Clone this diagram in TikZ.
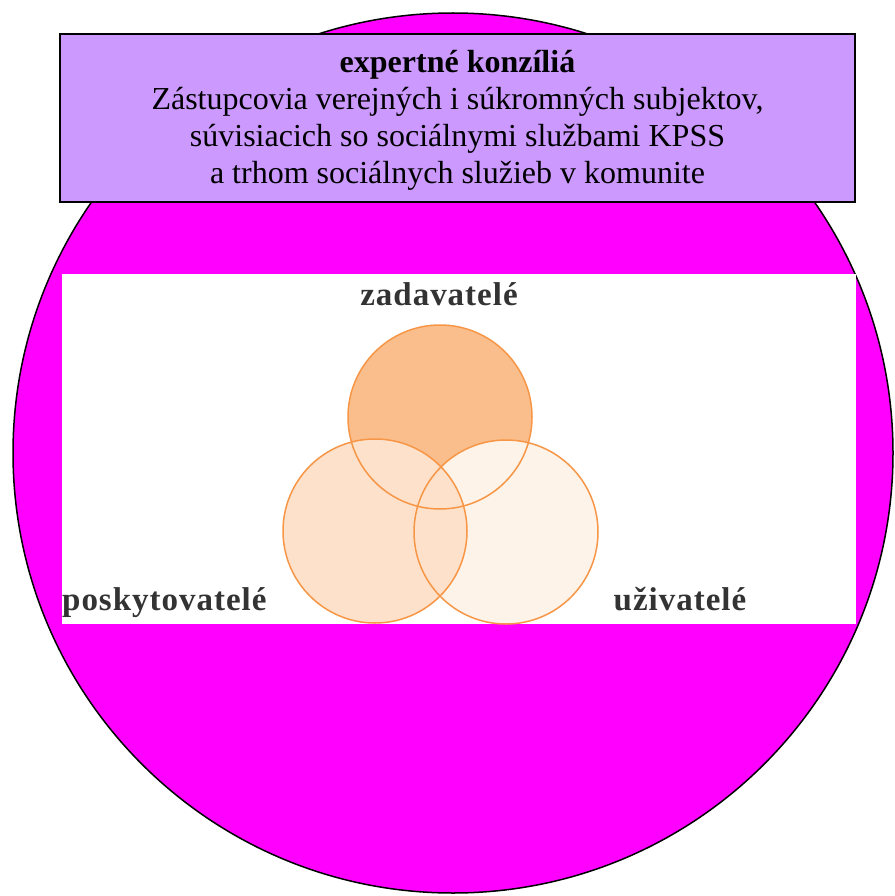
\documentclass[tikz,border=0pt]{standalone}
\usepackage{fontspec}
\setmainfont{Liberation Serif}
\usepackage{tikz}

\definecolor{kruh}{HTML}{FF00FF}
\definecolor{fialova}{HTML}{CC99FF}
\definecolor{oranz}{HTML}{F79646}
\definecolor{zad}{HTML}{FABE8C}
\definecolor{posk}{HTML}{FDE1CB}
\definecolor{uziv}{HTML}{FEF3E8}
\definecolor{sedy}{HTML}{333333}

\tikzset{
  riadok/.style={anchor=base, align=center, inner sep=0pt, font=\fontsize{32}{36}\selectfont},
  venn/.style={anchor=base, inner sep=0pt, text=sedy, font=\fontsize{33}{36}\selectfont\bfseries\addfontfeature{LetterSpace=3}},
  obrys/.style={draw=oranz, line width=1.5pt}
}

\begin{document}
\begin{tikzpicture}[x=1pt, y=-1pt]
\useasboundingbox (0,0) rectangle (894,896);
%\draw[step=50,gray,very thin] (0,0) grid (894,896);

% velky kruh
\draw[fill=kruh, line width=1.5pt] (453,453) circle (440pt);

% expertne konzilia
\node[draw, fill=fialova, line width=2pt, minimum width=795pt, minimum height=168pt] (konzil) at (457.5,118) {};
\node[riadok, font=\fontsize{32}{36}\selectfont\bfseries] (nadpis) at (457.5,73) {expertné konzíliá};
\node[riadok] (r1) at (457.5,110) {Zástupcovia verejných i súkromných subjektov,};
\node[riadok] (r2) at (457.5,147) {súvisiacich so sociálnymi službami KPSS};
\node[riadok] (r3) at (457.5,183) {a trhom sociálnych služieb v komunite};

% biely obrazok
\fill[white] (62,274) rectangle (856,624);

% venn
\fill[zad] (440,417) circle (92pt);
\fill[uziv] (506,532) circle (92pt);
\fill[posk] (375,531) circle (92pt);
\draw[obrys] (440,417) circle (92pt);
\draw[obrys] (506,532) circle (92pt);
\draw[obrys] (375,531) circle (92pt);

\node[venn] (zadavatele) at (439,305) {zadavatelé};
\node[venn, anchor=base west] (poskytovatele) at (62,610) {poskytovatelé};
\node[venn] (uzivatele) at (680,610) {uživatelé};

\end{tikzpicture}
\end{document}
